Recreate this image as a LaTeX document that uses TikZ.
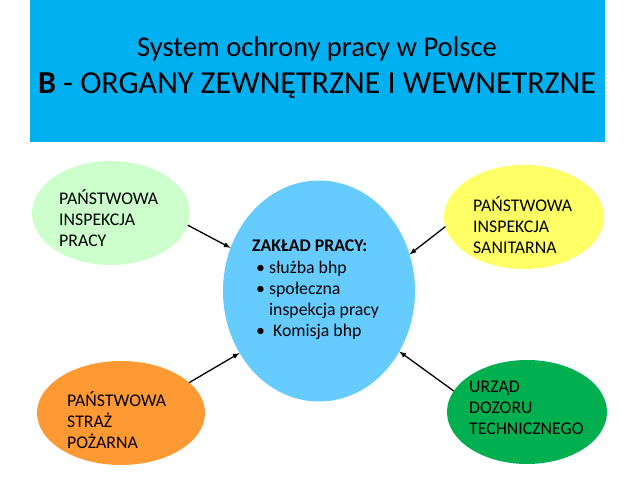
\documentclass[tikz,border=0pt]{standalone}
\usepackage{fontspec}
\setmainfont{Carlito}
\usetikzlibrary{shapes.geometric}
\definecolor{naglowek}{HTML}{00B0F0}
\definecolor{zaklad}{HTML}{66CCFF}
\definecolor{pip}{HTML}{CCFFCC}
\definecolor{pis}{HTML}{FFFF66}
\definecolor{psp}{HTML}{FF9933}
\definecolor{udt}{HTML}{00B050}
\tikzstyle{strz} = [draw,line width=1.3pt,-latex]
\tikzstyle{owal} = [ellipse,inner sep=0pt,outer sep=0pt]
\tikzstyle{tekst} = [anchor=west,align=left,inner sep=0pt,font=\fontsize{17.8}{21.3}\selectfont]

\begin{document}
\begin{tikzpicture}[x=1pt,y=-1pt]
\useasboundingbox (0,0) rectangle (638,479);
\fill [naglowek] (30,0) rectangle (605,142);
\node (tytul1) at (317,49) {\fontsize{28.6}{30}\selectfont System ochrony pracy w Polsce};
\node (tytul2) at (317,86) {\fontsize{32}{34}\selectfont \textbf{B} - ORGANY ZEWNĘTRZNE I WEWNETRZNE};
% owale
\node [owal,fill=zaklad,minimum width=192pt,minimum height=221pt] (zp) at (319,291) {};
\node [owal,fill=pip,minimum width=158pt,minimum height=104pt] (pip) at (111,213) {};
\node [owal,fill=pis,minimum width=160pt,minimum height=104pt] (pis) at (524,217) {};
\node [owal,fill=psp,minimum width=168pt,minimum height=104pt] (psp) at (121,413) {};
\node [owal,fill=udt,minimum width=160pt,minimum height=104pt] (udt) at (527,412) {};
% teksty
\node [tekst] (pipt) at (59,218) {PAŃSTWOWA\\INSPEKCJA\\PRACY};
\node [tekst] (pist) at (473,225) {PAŃSTWOWA\\INSPEKCJA\\SANITARNA};
\node [tekst] (pspt) at (67,420) {PAŃSTWOWA\\STRAŻ\\POŻARNA};
\node [tekst] (udtt) at (469,408) {URZĄD\\DOZORU\\TECHNICZNEGO};
\node [tekst] (zpt) at (252,290) {\textbf{ZAKŁAD PRACY:}\\
\hspace{4pt}\textbullet\ służba bhp\\
\hspace{4pt}\textbullet\ społeczna\\
\hspace{4pt}\hphantom{\textbullet\ }inspekcja pracy\\
\hspace{4pt}\textbullet\ \ Komisja bhp};
% strzalki
\draw [strz] (pip.-9) -- (zp.154);
\draw [strz] (pis.187) -- (zp.22);
\draw [strz] (psp.24) -- (zp.218);
\draw [strz] (udt.164) -- (zp.-37);
\end{tikzpicture}
\end{document}
